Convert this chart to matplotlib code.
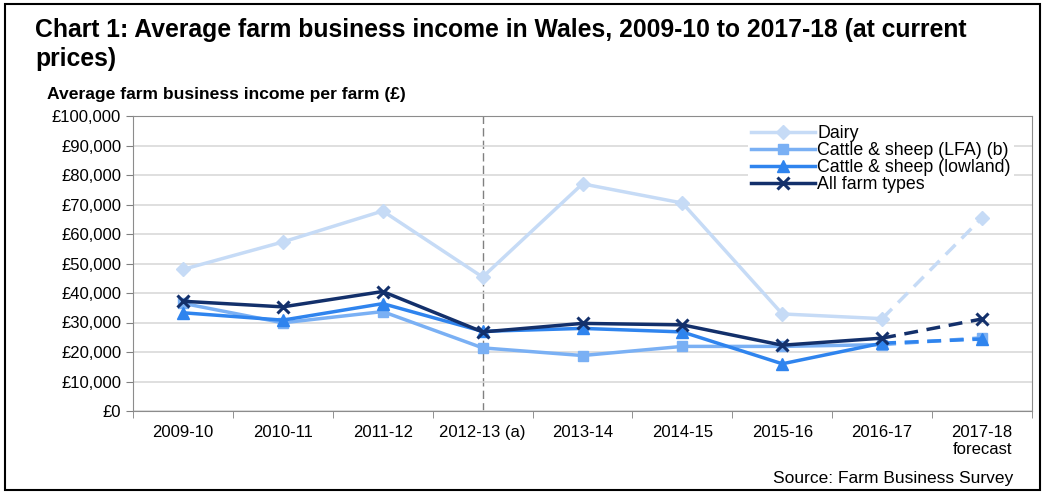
import numpy as np
import matplotlib.pyplot as plt
from matplotlib.patches import Rectangle

plt.rcParams['font.family'] = ['Liberation Sans', 'DejaVu Sans']

# Данные
years = ['2009-10', '2010-11', '2011-12', '2012-13 (a)', '2013-14',
         '2014-15', '2015-16', '2016-17', '2017-18\nforecast']
dairy = [48000, 57300, 67800, 45400, 77000, 70500, 32900, 31300, 65500]
lfa = [36500, 29900, 33700, 21400, 18800, 21900, 21900, 22500, 24800]
lowland = [33300, 30800, 36400, 27000, 28000, 26800, 16000, 23000, 24400]
all_farms = [37200, 35300, 40500, 26800, 29700, 29200, 22300, 24700, 31200]

series = [
    ('Dairy', dairy, '#c6dbf6', 'D', 7),
    ('Cattle & sheep (LFA) (b)', lfa, '#7ab0f4', 's', 7),
    ('Cattle & sheep (lowland)', lowland, '#2f84ee', '^', 8),
    ('All farm types', all_farms, '#13306b', 'x', 9),
]

fig = plt.figure(figsize=(10.49, 4.95), dpi=100)
ax = fig.add_axes([133 / 1049, 1 - 411 / 495, (1032 - 133) / 1049, (411 - 116) / 495])

x = np.arange(len(years))
for name, vals, col, mk, ms in series:
    # сплошная часть до 2016-17
    ax.plot(x[:-1], vals[:-1], color=col, marker=mk, markersize=ms,
            markeredgewidth=2.2 if mk == 'x' else 1, linewidth=2.5, label=name)
    # прогноз пунктиром
    ax.plot(x[-2:], vals[-2:], color=col, linestyle=(0, (4, 2.5)), linewidth=2.5)
    ax.plot(x[-1], vals[-1], color=col, marker=mk, markersize=ms,
            markeredgewidth=2.2 if mk == 'x' else 1, linestyle='none')

ax.axvline(3, color='#808080', linestyle=(0, (6, 3)), linewidth=1, zorder=0)

ax.set_xlim(-0.5, len(years) - 0.5)
ax.set_ylim(0, 100000)
ax.set_yticks(np.arange(0, 100001, 10000))
ax.set_yticklabels(['£0'] + ['£{:,}'.format(v) for v in range(10000, 100001, 10000)])
ax.set_xticks(x)
ax.set_xticklabels(years)
ax.set_xticks(np.arange(-0.5, len(years), 1), minor=True)
ax.tick_params(axis='x', which='major', length=0, pad=10, labelsize=12)
ax.tick_params(axis='x', which='minor', length=5, color='#808080')
ax.tick_params(axis='y', length=5, color='#808080', labelsize=12)
ax.grid(axis='y', color='#d9d9d9', linewidth=1.2, zorder=0)
ax.set_axisbelow(True)
for s in ax.spines.values():
    s.set_color('#8c8c8c')

leg = ax.legend(loc='upper right', fontsize=12.8, frameon=True, fancybox=False,
                edgecolor='none', handlelength=3.6, handletextpad=0.1,
                labelspacing=0.0, borderpad=0.2, bbox_to_anchor=(0.99, 1.01))
leg.get_frame().set_alpha(1)

fig.text(35 / 1049, 1 - 30 / 495, 'Chart 1: Average farm business income in Wales, 2009-10 to 2017-18 (at current',
         fontsize=17.8, fontweight='bold', va='center')
fig.text(35 / 1049, 1 - 59 / 495, 'prices)', fontsize=17.8, fontweight='bold', va='center')
fig.text(47 / 1049, 1 - 95 / 495, 'Average farm business income per farm (£)',
         fontsize=12.6, fontweight='bold', va='center')
fig.text(1013 / 1049, 1 - 479 / 495, 'Source: Farm Business Survey',
         fontsize=12.5, ha='right', va='center')

fig.patches.append(Rectangle((5 / 1049, 5 / 495), 1035 / 1049, 486 / 495,
                             transform=fig.transFigure, fill=False,
                             edgecolor='black', linewidth=1.5))

plt.savefig('out.png', dpi=100)
